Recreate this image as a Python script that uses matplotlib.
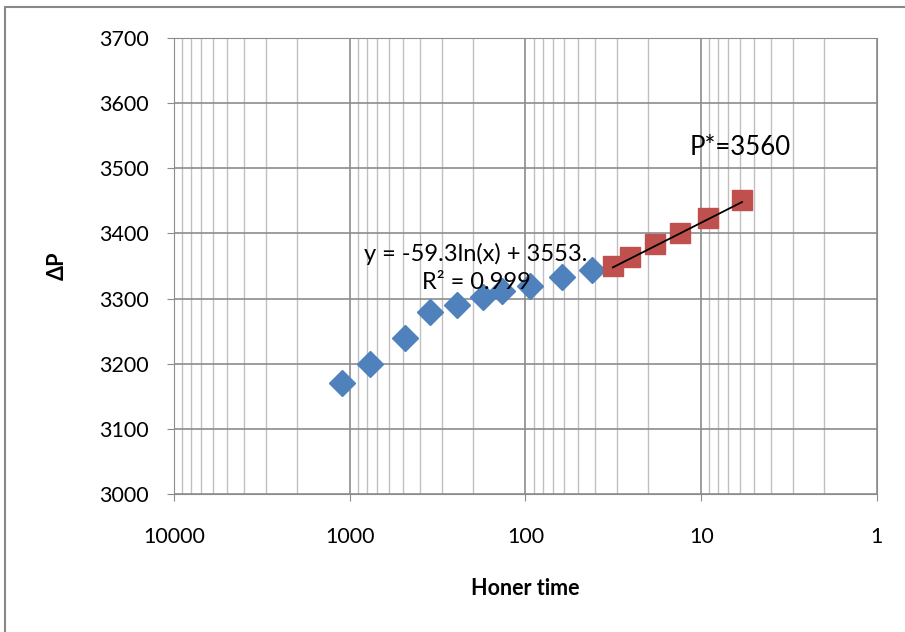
import numpy as np
import matplotlib.pyplot as plt
from matplotlib.patches import Rectangle

# data
horner_blue = [1107, 767, 485, 349, 245, 175, 136, 94, 62, 41.9]
dp_blue = [3170, 3200, 3240, 3280, 3290, 3302, 3311, 3320, 3333, 3344]
horner_red = [31.8, 25.4, 18.3, 13.2, 9.16, 5.86]
dp_red = [3350, 3364, 3383, 3400, 3424, 3451]
slope, intercept = -59.3, 3553

plt.rcParams['font.family'] = ['Lato', 'DejaVu Sans']

fig = plt.figure(figsize=(9.05, 6.32), dpi=100)
ax = fig.add_axes([0.1923, 0.2184, 0.969 - 0.1923, 0.9399 - 0.2184])

fig.patches.append(Rectangle((5/905, -0.1), 1.1, 1 - 7/632 + 0.1, transform=fig.transFigure,
                             fill=False, edgecolor='#888888', lw=1.5, clip_on=False))

ax.plot(horner_blue, dp_blue, 'D', color='#4F81BD', markersize=13, zorder=3)
ax.plot(horner_red, dp_red, 's', color='#C0504D', markersize=14, zorder=3)
xt = np.array([horner_red[0], horner_red[-1]])
ax.plot(xt, slope*np.log(xt) + intercept, color='black', lw=1.3, zorder=4)

ax.set_xscale('log')
ax.set_xlim(10000, 1)
ax.set_ylim(3000, 3700)
ax.set_yticks(range(3000, 3701, 100))
ax.set_xticks([10000, 1000, 100, 10, 1])
ax.set_xticklabels(['10000', '1000', '100', '10', '1'])
ax.grid(True, which='major', color='#8c8c8c', lw=1.2)
ax.grid(True, which='minor', axis='x', color='#c0c0c0', lw=1.0)
for s in ax.spines.values():
    s.set_color('#8c8c8c')
ax.tick_params(which='major', color='#8c8c8c', length=5, labelsize=15.5)
ax.tick_params(which='minor', length=0)
ax.tick_params(axis='y', pad=13)
ax.tick_params(axis='x', pad=19)

ax.set_xlabel('Honer time', fontsize=15.5, fontweight='bold', labelpad=22)
ax.set_ylabel('ΔP', fontsize=15.5, fontweight='bold', labelpad=23)

ax.text(191, 3368, 'y = -59.3ln(x) + 3553.', fontsize=17, ha='center', va='center')
ax.text(191, 3324, 'R² = 0.999', fontsize=17, ha='center', va='center')
ax.text(6.0, 3532, 'P*=3560', fontsize=18.5, ha='center', va='center')

fig.savefig('out.png', dpi=100)
